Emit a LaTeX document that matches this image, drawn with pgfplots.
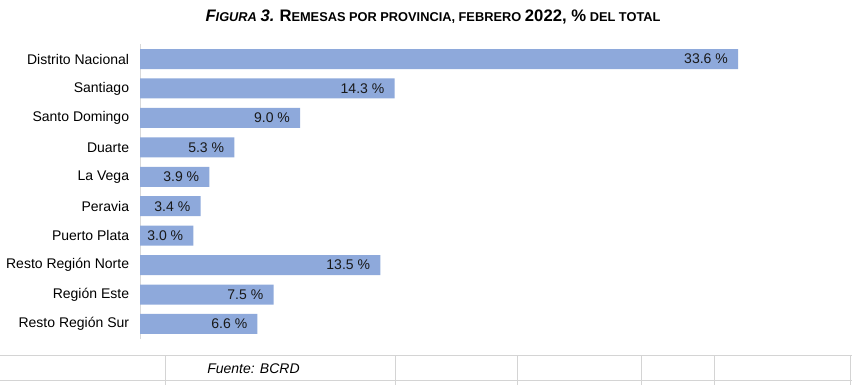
\documentclass[border=0pt]{standalone}
\usepackage{pgfplots}
\pgfplotsset{compat=1.18}
\usepackage{fontspec}
\setmainfont{Liberation Sans}
\definecolor{barblue}{RGB}{142,169,219}
\definecolor{gridgray}{RGB}{212,212,212}
\definecolor{axgray}{RGB}{217,217,217}
\newcommand\B[1]{{\fontsize{12.5}{14}\selectfont #1}}
\newcommand\Sm[1]{{\fontsize{9.6}{11}\selectfont #1}}
\begin{document}
\begin{tikzpicture}[x=0.75pt,y=0.75pt]
\path[use as bounding box] (0,0) rectangle (852,385);
\begin{axis}[
  at={(105pt,34.725pt)}, anchor=south west,
  scale only axis, width=534pt, height=220.8pt,
  xmin=0, xmax=40, ymin=-0.5, ymax=9.5,
  axis x line=none,
  axis y line*=left,
  y axis line style={draw=axgray, line width=0.75pt, -},
  ytick={0,...,9},
  yticklabels={Resto Región Sur, Región Este, Resto Región Norte, Puerto Plata, Peravia, La Vega, Duarte, Santo Domingo, Santiago, Distrito Nacional},
  major tick length=0pt,
  ytick style={draw=none},
  yticklabel style={font=\fontsize{10.5}{12}\selectfont, anchor=east, inner sep=0pt, xshift=-8pt},
  /pgf/number format/assume math mode=true,
  xbar, bar width=15pt,
  nodes near coords={\pgfmathprintnumber[fixed,fixed zerofill,precision=1]{\pgfplotspointmeta}~\%},
  nodes near coords style={font=\fontsize{10.5}{12}\selectfont, anchor=east, inner sep=0pt, xshift=-7.5pt, text=black!90},
  clip=false,
]
\addplot[fill=barblue, draw=none] coordinates {
(6.6,0) (7.5,1) (13.5,2) (3.0,3) (3.4,4) (3.9,5) (5.3,6) (9.0,7) (14.3,8) (33.6,9)};
\end{axis}
\node[font=\bfseries] at (433,368) {\textit{\B{F}\Sm{IGURA} \B{3.}} \B{R}\Sm{EMESAS POR PROVINCIA, FEBRERO} \B{2022, \%} \Sm{DEL TOTAL}};
\draw[gridgray, line width=0.75pt] (0,29) -- (852,29) (0,4) -- (852,4);
\foreach \xx in {165,395,517,641,714,850} \draw[gridgray, line width=0.75pt] (\xx,29) -- (\xx,0);
\node[font=\itshape\fontsize{10.5}{12}\selectfont] at (253.5,16) {Fuente: BCRD};
\end{tikzpicture}
\end{document}
